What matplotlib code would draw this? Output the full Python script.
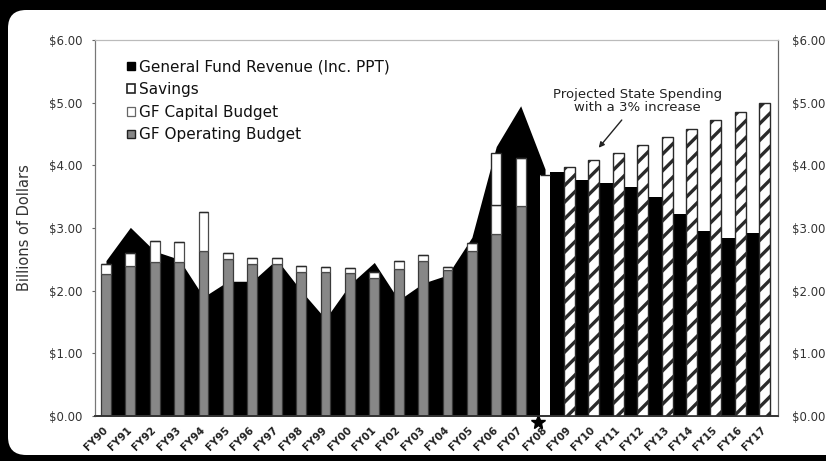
import matplotlib
matplotlib.use("Agg")
import matplotlib.pyplot as plt
import numpy as np
from matplotlib.patches import FancyBboxPatch, Patch

years = ["FY90", "FY91", "FY92", "FY93", "FY94", "FY95", "FY96", "FY97", "FY98", "FY99",
         "FY00", "FY01", "FY02", "FY03", "FY04", "FY05", "FY06", "FY07", "FY08", "FY09",
         "FY10", "FY11", "FY12", "FY13", "FY14", "FY15", "FY16", "FY17"]

# general fund revenue, FY90-FY08 (drawn as area)
revenue_hist = [2.48, 3.01, 2.63, 2.50, 1.90, 2.15, 2.15, 2.50, 2.00, 1.55,
                2.10, 2.45, 1.85, 2.12, 2.25, 2.85, 4.30, 4.95, 3.94]
# general fund revenue, FY09-FY17 (drawn as columns)
revenue_proj = [3.90, 3.77, 3.72, 3.66, 3.50, 3.22, 2.95, 2.84, 2.92]

# budget columns FY90-FY08
operating = [2.26, 2.40, 2.45, 2.45, 2.63, 2.50, 2.42, 2.42, 2.29, 2.29,
             2.28, 2.20, 2.35, 2.48, 2.33, 2.63, 2.90, 3.35, 0.00]
capital = [0.16, 0.20, 0.35, 0.32, 0.62, 0.10, 0.10, 0.10, 0.10, 0.08,
           0.08, 0.10, 0.13, 0.09, 0.05, 0.13, 0.47, 0.77, 3.85]
savings = [0, 0, 0, 0, 0, 0, 0, 0, 0, 0,
           0, 0, 0, 0, 0, 0, 0.83, 0, 0]

# projected state spending with 3% increase, FY09-FY17
projected = [3.98, 4.09, 4.20, 4.32, 4.45, 4.58, 4.72, 4.85, 5.00]

plt.rcParams['hatch.linewidth'] = 2.4
plt.rcParams['font.family'] = ['DejaVu Sans']

fig = plt.figure(figsize=(8.26, 4.61), dpi=100, facecolor='black')
panel = FancyBboxPatch((8 / 826, 6 / 461), 1.05, 445 / 461,
                       boxstyle="round,pad=0,rounding_size=0.022",
                       mutation_aspect=826 / 461,
                       transform=fig.transFigure, facecolor='white',
                       edgecolor='none', zorder=-10)
fig.patches.append(panel)

ax = fig.add_axes([95 / 826, (461 - 416) / 461, (778 - 95) / 826, (416 - 40) / 461])
ax.set_facecolor('none')

n_hist = len(revenue_hist)
xh = np.arange(n_hist)
xp = np.arange(n_hist, len(years))

ax.fill_between(xh, revenue_hist, color='black', lw=0, zorder=1)
ax.bar(xp - 0.5, revenue_proj, width=0.62, color='black', lw=0, zorder=1)

bw = 0.40
op = np.array(operating)
cap = np.array(capital)
sav = np.array(savings)
ax.bar(xh, op, width=bw, color='#878787', edgecolor='#3a3a3a', lw=0.9, zorder=2)
ax.bar(xh[:-1], cap[:-1], bottom=op[:-1], width=bw, color='white',
       edgecolor='#4a4a4a', lw=0.9, zorder=2)
ax.bar(xh[-1] - 0.05, cap[-1], width=0.3, color='white', lw=0, zorder=2)
ax.bar(xh, sav, bottom=op + cap, width=bw, color='white',
       edgecolor='#2a2a2a', lw=1.0, zorder=2)

ax.bar(xp, projected, width=0.45, facecolor='white', edgecolor='#2a2a2a',
       hatch='//', lw=1.0, zorder=3)

ax.plot(xh[-1] - 0.28, -0.09, marker='*', ms=10, color='black',
        clip_on=False, zorder=6)

ax.set_xlim(-0.45, 27.55)
ax.set_ylim(0, 6)
ticks = np.arange(0, 7)
ax.set_yticks(ticks)
ax.set_yticklabels(["$%.2f" % t for t in ticks], fontsize=8.5, color='#333')
ax.set_xticks(np.arange(len(years)))
ax.set_xticklabels(years, rotation=45, ha='right', va='center',
                   rotation_mode='anchor', fontsize=7.5, fontweight='bold',
                   color='#222')
ax.tick_params(axis='x', length=0, pad=9)
ax.tick_params(axis='y', length=2, pad=7, color='#666')
ax.set_ylabel("Billions of Dollars", fontsize=10.5, color='#333', labelpad=12)

ax2 = ax.twinx()
ax2.set_ylim(0, 6)
ax2.set_yticks(ticks)
ax2.set_yticklabels(["$%.2f" % t for t in ticks], fontsize=8.5, color='#333')
ax2.tick_params(axis='y', length=0, pad=10)

for a in (ax, ax2):
    a.spines['left'].set_color('#777')
    a.spines['bottom'].set_color('#333')
    a.spines['top'].set_color('#bbb')
    a.spines['right'].set_color('#666')
    a.spines['bottom'].set_linewidth(1.2)

handles = [
    Patch(facecolor='black', edgecolor='black', label='General Fund Revenue (Inc. PPT)'),
    Patch(facecolor='white', edgecolor='#222', lw=1.2, label='Savings'),
    Patch(facecolor='white', edgecolor='#666', lw=0.9, label='GF Capital Budget'),
    Patch(facecolor='#878787', edgecolor='#222', lw=1.0, label='GF Operating Budget'),
]
ax.legend(handles=handles, loc='upper left', bbox_to_anchor=(0.047, 0.948),
          frameon=False, fontsize=11, handlelength=0.5, handleheight=0.5,
          handletextpad=0.3, labelspacing=0.5, borderpad=0, borderaxespad=0,
          labelcolor='#111')

ax.annotate("Projected State Spending\nwith a 3% increase",
            xy=(20.2, 4.28), xytext=(21.8, 5.03), ha='center', va='center',
            fontsize=9.5, color='#222', linespacing=1.05,
            arrowprops=dict(arrowstyle='-|>', color='#222', lw=1.0,
                            mutation_scale=8, shrinkA=3, shrinkB=0))

fig.savefig('out.png', dpi=100, facecolor='black')
